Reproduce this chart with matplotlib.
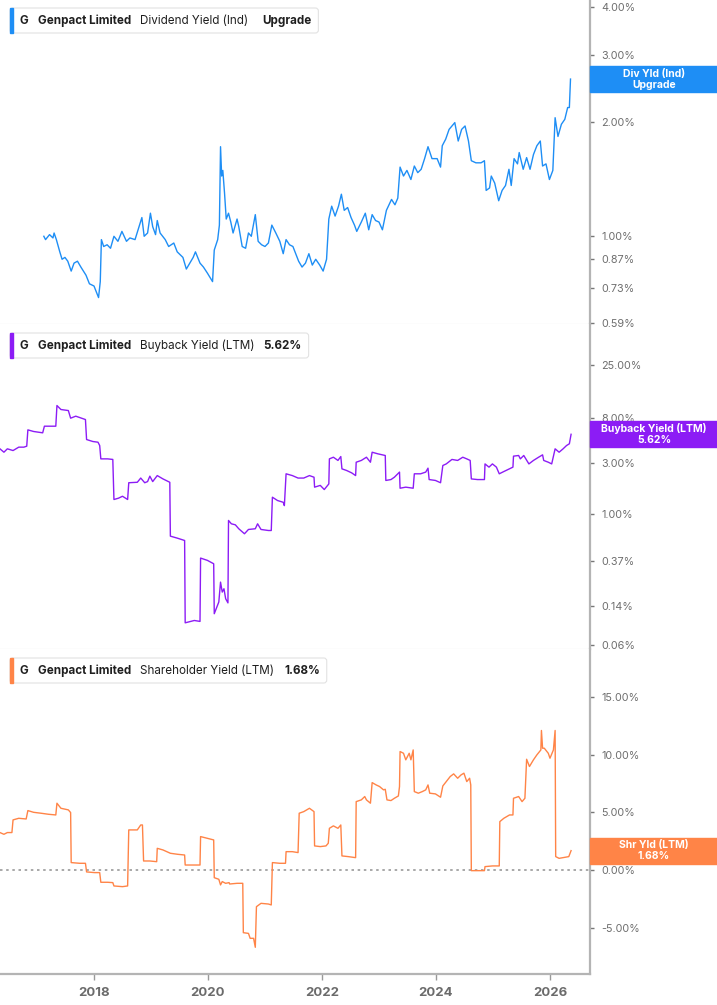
import matplotlib
matplotlib.use("Agg")
import matplotlib.pyplot as plt
from matplotlib.patches import FancyBboxPatch, Rectangle
from matplotlib.transforms import IdentityTransform

plt.rcParams["font.family"] = ["Inter", "DejaVu Sans"]

# ---- data (decimal year, percent) ----
div_years = [
    2017.12, 2017.15, 2017.22, 2017.28, 2017.30, 2017.34, 2017.40, 2017.44, 2017.49, 2017.54,
    2017.60, 2017.65, 2017.71, 2017.77, 2017.86, 2017.92, 2018.00, 2018.08, 2018.11, 2018.13,
    2018.17, 2018.23, 2018.29, 2018.35, 2018.42, 2018.49, 2018.57, 2018.63, 2018.72, 2018.79,
    2018.84, 2018.88, 2018.94, 2018.99, 2019.03, 2019.08, 2019.11, 2019.16, 2019.25, 2019.31,
    2019.40, 2019.46, 2019.56, 2019.62, 2019.68, 2019.74, 2019.78, 2019.86, 2019.92, 2019.99,
    2020.08, 2020.11, 2020.17, 2020.20, 2020.22, 2020.24, 2020.26, 2020.29, 2020.32, 2020.36,
    2020.40, 2020.44, 2020.51, 2020.54, 2020.60, 2020.66, 2020.71, 2020.76, 2020.83, 2020.88,
    2020.94, 2021.00, 2021.06, 2021.12, 2021.19, 2021.26, 2021.32, 2021.37, 2021.43, 2021.49,
    2021.59, 2021.65, 2021.71, 2021.77, 2021.83, 2021.89, 2021.96, 2022.02, 2022.08, 2022.12,
    2022.17, 2022.23, 2022.29, 2022.34, 2022.39, 2022.45, 2022.51, 2022.57, 2022.61, 2022.69,
    2022.76, 2022.82, 2022.88, 2022.94, 2023.00, 2023.06, 2023.13, 2023.22, 2023.28, 2023.33,
    2023.37, 2023.43, 2023.49, 2023.56, 2023.62, 2023.68, 2023.74, 2023.80, 2023.86, 2023.93,
    2024.02, 2024.08, 2024.11, 2024.17, 2024.23, 2024.33, 2024.39, 2024.45, 2024.51, 2024.57,
    2024.62, 2024.70, 2024.79, 2024.85, 2024.88, 2024.94, 2024.97, 2025.03, 2025.10, 2025.16,
    2025.22, 2025.28, 2025.32, 2025.37, 2025.43, 2025.46, 2025.53, 2025.59, 2025.65, 2025.71,
    2025.77, 2025.83, 2025.87, 2025.93, 2025.99, 2026.05, 2026.09, 2026.14, 2026.20, 2026.26,
    2026.31, 2026.34, 2026.36,
]
div_yield = [
    1.00, 0.98, 1.01, 0.99, 1.02, 0.98, 0.91, 0.87, 0.88, 0.86,
    0.81, 0.85, 0.86, 0.83, 0.79, 0.75, 0.74, 0.69, 0.76, 0.98,
    0.94, 0.95, 0.93, 1.00, 0.97, 1.03, 0.97, 0.99, 0.98, 1.06,
    1.12, 1.00, 1.02, 1.15, 1.06, 1.01, 1.10, 1.02, 0.98, 0.94,
    0.96, 0.91, 0.88, 0.82, 0.85, 0.88, 0.91, 0.85, 0.83, 0.80,
    0.76, 0.92, 0.98, 1.07, 1.72, 1.44, 1.49, 1.30, 1.11, 1.15,
    1.09, 1.02, 1.11, 1.06, 0.94, 0.93, 1.02, 1.00, 1.14, 0.97,
    0.95, 0.94, 0.96, 1.07, 1.02, 0.97, 0.90, 0.98, 0.95, 0.94,
    0.86, 0.83, 0.85, 0.90, 0.84, 0.87, 0.84, 0.81, 0.87, 1.11,
    1.20, 1.13, 1.20, 1.29, 1.17, 1.19, 1.12, 1.07, 1.03, 1.09,
    1.15, 1.04, 1.14, 1.10, 1.09, 1.04, 1.17, 1.25, 1.21, 1.26,
    1.52, 1.44, 1.49, 1.41, 1.53, 1.47, 1.50, 1.60, 1.72, 1.60,
    1.60, 1.52, 1.73, 1.80, 1.91, 1.99, 1.78, 1.91, 1.95, 1.78,
    1.58, 1.56, 1.56, 1.58, 1.32, 1.34, 1.44, 1.38, 1.24, 1.32,
    1.36, 1.50, 1.36, 1.60, 1.55, 1.66, 1.50, 1.61, 1.50, 1.64,
    1.73, 1.78, 1.53, 1.55, 1.41, 1.49, 2.05, 1.83, 1.97, 2.03,
    2.18, 2.18, 2.59,
]

bb_years = [
    2016.35, 2016.42, 2016.48, 2016.58, 2016.68, 2016.77, 2016.82, 2016.84, 2016.94, 2017.10,
    2017.13, 2017.23, 2017.33, 2017.35, 2017.42, 2017.55, 2017.59, 2017.68, 2017.85, 2017.87,
    2017.98, 2018.07, 2018.10, 2018.12, 2018.24, 2018.33, 2018.35, 2018.43, 2018.50, 2018.59,
    2018.61, 2018.76, 2018.82, 2018.89, 2018.94, 2018.98, 2019.03, 2019.11, 2019.21, 2019.33,
    2019.34, 2019.46, 2019.59, 2019.60, 2019.70, 2019.76, 2019.86, 2019.87, 2019.99, 2020.10,
    2020.11, 2020.19, 2020.22, 2020.25, 2020.28, 2020.31, 2020.35, 2020.36, 2020.41, 2020.48,
    2020.54, 2020.64, 2020.71, 2020.83, 2020.87, 2020.93, 2021.06, 2021.11, 2021.13, 2021.22,
    2021.32, 2021.34, 2021.37, 2021.48, 2021.58, 2021.68, 2021.78, 2021.86, 2021.87, 2021.97,
    2022.04, 2022.12, 2022.13, 2022.20, 2022.28, 2022.33, 2022.35, 2022.43, 2022.52, 2022.59,
    2022.60, 2022.69, 2022.78, 2022.85, 2022.88, 2022.98, 2023.11, 2023.12, 2023.21, 2023.27,
    2023.36, 2023.37, 2023.47, 2023.60, 2023.62, 2023.73, 2023.82, 2023.86, 2023.88, 2023.99,
    2024.08, 2024.12, 2024.18, 2024.28, 2024.38, 2024.47, 2024.54, 2024.60, 2024.62, 2024.73,
    2024.85, 2024.86, 2024.93, 2024.99, 2025.06, 2025.11, 2025.19, 2025.29, 2025.35, 2025.36,
    2025.45, 2025.48, 2025.54, 2025.63, 2025.71, 2025.80, 2025.87, 2025.89, 2025.97, 2026.03,
    2026.09, 2026.16, 2026.23, 2026.29, 2026.34, 2026.37,
]
bb_yield = [
    4.11, 3.82, 4.11, 3.96, 4.26, 4.26, 4.35, 6.18, 5.97, 5.80,
    6.69, 6.69, 6.69, 10.44, 9.58, 9.37, 7.95, 8.30, 7.72, 5.02,
    4.81, 4.74, 4.41, 3.31, 3.31, 3.27, 1.38, 1.42, 1.48, 1.38,
    1.98, 2.00, 2.19, 1.98, 2.03, 2.28, 2.03, 2.31, 2.15, 2.00,
    0.627, 0.601, 0.571, 0.097, 0.100, 0.102, 0.100, 0.391, 0.372, 0.346,
    0.118, 0.152, 0.233, 0.188, 0.202, 0.163, 0.149, 0.879, 0.818, 0.800,
    0.735, 0.660, 0.724, 0.735, 0.818, 0.724, 0.708, 0.708, 1.45, 1.35,
    1.30, 1.21, 2.40, 2.31, 2.19, 2.19, 2.31, 2.23, 1.80, 1.87,
    1.71, 1.93, 3.31, 3.43, 3.20, 3.48, 2.67, 2.58, 2.45, 2.31,
    3.08, 3.20, 3.43, 3.08, 3.82, 3.69, 3.56, 2.08, 2.12, 2.23,
    2.49, 1.76, 1.80, 1.76, 2.40, 2.40, 2.49, 2.71, 2.12, 2.08,
    1.98, 2.87, 2.97, 3.27, 3.20, 3.43, 3.31, 3.20, 2.15, 2.12,
    2.12, 2.97, 2.77, 2.97, 2.77, 2.40, 2.52, 2.67, 2.77, 3.51,
    3.56, 3.31, 3.56, 2.97, 3.20, 3.43, 3.61, 3.20, 3.08, 2.97,
    4.11, 3.82, 4.11, 4.41, 4.58, 5.62,
]

shr_years = [
    2016.35, 2016.42, 2016.48, 2016.56, 2016.58, 2016.68, 2016.81, 2016.84, 2016.94, 2017.07,
    2017.20, 2017.33, 2017.35, 2017.42, 2017.55, 2017.59, 2017.60, 2017.75, 2017.85, 2017.87,
    2018.01, 2018.10, 2018.12, 2018.24, 2018.33, 2018.35, 2018.50, 2018.59, 2018.61, 2018.76,
    2018.82, 2018.85, 2018.87, 2018.98, 2019.10, 2019.11, 2019.21, 2019.34, 2019.47, 2019.59,
    2019.60, 2019.73, 2019.86, 2019.87, 2019.99, 2020.10, 2020.11, 2020.19, 2020.22, 2020.25,
    2020.31, 2020.37, 2020.38, 2020.51, 2020.61, 2020.62, 2020.71, 2020.74, 2020.80, 2020.83,
    2020.85, 2020.93, 2021.06, 2021.11, 2021.13, 2021.26, 2021.36, 2021.37, 2021.48, 2021.58,
    2021.60, 2021.68, 2021.78, 2021.86, 2021.87, 2021.97, 2022.07, 2022.11, 2022.13, 2022.20,
    2022.28, 2022.33, 2022.35, 2022.46, 2022.59, 2022.60, 2022.69, 2022.75, 2022.78, 2022.85,
    2022.88, 2022.95, 2023.01, 2023.08, 2023.11, 2023.14, 2023.21, 2023.27, 2023.34, 2023.36,
    2023.37, 2023.43, 2023.47, 2023.53, 2023.56, 2023.60, 2023.62, 2023.69, 2023.76, 2023.82,
    2023.86, 2023.89, 2023.99, 2024.08, 2024.12, 2024.18, 2024.25, 2024.31, 2024.38, 2024.44,
    2024.49, 2024.54, 2024.59, 2024.61, 2024.62, 2024.73, 2024.85, 2024.86, 2024.99, 2025.11,
    2025.12, 2025.19, 2025.29, 2025.35, 2025.36, 2025.45, 2025.51, 2025.56, 2025.59, 2025.64,
    2025.71, 2025.77, 2025.84, 2025.85, 2025.87, 2025.90, 2025.97, 2026.00, 2026.06, 2026.09,
    2026.10, 2026.16, 2026.23, 2026.33, 2026.37,
]
shr_yield = [
    3.25, 3.10, 3.25, 3.25, 4.35, 4.49, 4.43, 5.16, 5.01, 4.93,
    4.84, 4.78, 5.80, 5.36, 5.22, 4.99, 0.64, 0.58, 0.58, -0.17,
    -0.23, -0.23, -1.07, -1.07, -1.10, -1.39, -1.45, -1.39, 3.48, 3.48,
    3.91, 3.91, 0.78, 0.78, 0.72, 1.88, 1.74, 1.45, 1.36, 1.30,
    0.43, 0.43, 0.43, 2.90, 2.75, 2.61, -0.67, -0.81, -1.30, -1.01,
    -1.16, -1.10, -1.22, -1.16, -1.16, -5.45, -5.51, -5.94, -5.94, -6.72,
    -3.19, -2.90, -2.96, -3.04, 0.64, 0.58, 0.58, 1.59, 1.59, 1.51,
    4.93, 5.07, 5.36, 5.07, 2.09, 2.03, 2.09, 2.32, 3.62, 3.83,
    3.62, 3.91, 1.22, 1.16, 1.07, 5.94, 6.09, 6.38, 6.09, 5.80,
    7.59, 7.39, 7.25, 6.96, 7.01, 6.09, 6.03, 6.23, 6.43, 7.25,
    10.29, 10.14, 9.57, 10.14, 9.57, 10.43, 6.81, 6.67, 6.81, 6.96,
    7.39, 6.67, 6.61, 6.32, 7.30, 7.68, 8.12, 8.35, 7.97, 8.26,
    8.41, 7.68, 7.97, 7.39, -0.06, -0.06, -0.06, 0.29, 0.35, 0.35,
    4.20, 4.49, 4.78, 4.78, 6.23, 6.38, 5.94, 6.23, 9.62, 8.99,
    9.57, 10.00, 10.43, 12.12, 10.58, 10.58, 10.14, 9.71, 10.43, 12.12,
    1.16, 1.01, 1.07, 1.16, 1.68,
]

assert len(div_years) == len(div_yield)
assert len(bb_years) == len(bb_yield)
assert len(shr_years) == len(shr_yield)

year_ticks = [2018, 2020, 2022, 2024, 2026]
div_ticks = [0.59, 0.73, 0.87, 1.00, 2.00, 3.00, 4.00]
bb_ticks = [0.06, 0.14, 0.37, 1.00, 3.00, 8.00, 25.00]
shr_ticks = [-5, 0, 5, 10, 15]

BLUE = "#1e8ef5"
PURPLE = "#8c1cf5"
ORANGE = "#ff8447"

W, H = 717, 1005
fig = plt.figure(figsize=(W / 100, H / 100), dpi=100)
pix = IdentityTransform()

panels = [(0, 324), (324, 649), (649, 974)]
axes = []
for top, bottom in panels:
    ax = fig.add_axes([0, 1 - bottom / H, 590 / W, (bottom - top) / H])
    ax.set_xlim(2016.351, 2026.702)
    for side in ("left", "top"):
        ax.spines[side].set_visible(False)
    ax.spines["right"].set_color("#b4b4b4")
    ax.spines["right"].set_linewidth(1.6)
    ax.spines["bottom"].set_color("#cfcfcf")
    ax.spines["bottom"].set_linewidth(0.8)
    ax.yaxis.tick_right()
    ax.tick_params(axis="y", which="both", direction="out", length=3, width=1,
                   color="#777777", labelsize=7.8, labelcolor="#6e6e6e", pad=5)
    ax.set_xticks([])
    ax.minorticks_off()
    axes.append(ax)

ax1, ax2, ax3 = axes

# dividend yield (log)
ax1.plot(div_years, div_yield, color=BLUE, lw=1.0)
ax1.set_yscale("log")
ax1.set_ylim(0.588, 4.18)
ax1.set_yticks(div_ticks)
ax1.set_yticklabels([f"{t:.2f}%" for t in div_ticks])
ax1.minorticks_off()

# buyback yield (log)
ax2.plot(bb_years, bb_yield, color=PURPLE, lw=1.0)
ax2.set_yscale("log")
ax2.set_ylim(0.0552, 60.4)
ax2.set_yticks(bb_ticks)
ax2.set_yticklabels([f"{t:.2f}%" for t in bb_ticks])
ax2.minorticks_off()

# shareholder yield (linear)
ax3.plot(shr_years, shr_yield, color=ORANGE, lw=1.0)
ax3.axhline(0, color="#9a9a9a", lw=1.2, ls=(0, (1.5, 2.2)), zorder=1)
ax3.set_ylim(-9.04, 19.2)
ax3.set_yticks(shr_ticks)
ax3.set_yticklabels([f"{t:.2f}%" for t in shr_ticks])
ax3.spines["bottom"].set_color("#b4b4b4")
ax3.spines["bottom"].set_linewidth(1.6)
ax3.set_xticks(year_ticks)
ax3.set_xticklabels([str(y) for y in year_ticks], fontweight="bold")
ax3.tick_params(axis="x", direction="out", length=4, width=1, color="#999999",
                labelsize=9.5, labelcolor="#6b6b6b", pad=5)

renderer = fig.canvas.get_renderer()


def draw_header(y_top, parts, color):
    yc = H - (y_top + 12.5)
    x = 20
    last = None
    for text, weight, gap in parts:
        t = fig.text(x, yc, text, transform=pix, fontsize=8.4, fontweight=weight,
                     color="#1f1f1f", va="center", ha="left", zorder=7)
        last = t.get_window_extent(renderer)
        x = last.x1 + gap
    right = last.x1 + 7
    box = FancyBboxPatch((10, H - y_top - 25), right - 10, 25,
                         boxstyle="round,pad=0,rounding_size=3", transform=pix,
                         fc="white", ec="#e2e2e2", lw=0.8, zorder=5)
    fig.add_artist(box)
    fig.add_artist(Rectangle((10, H - y_top - 25), 3, 25, transform=pix,
                             color=color, zorder=6))


def value_tag(ax, x_last, v_last, line1, line2, color):
    yd = ax.transData.transform((x_last, v_last))[1]
    fig.add_artist(Rectangle((590, yd - 13), 127, 26, transform=pix,
                             color=color, zorder=5))
    fig.text(654, yd + 5.5, line1, transform=pix, fontsize=7.5, fontweight="bold",
             color="white", ha="center", va="center", zorder=6)
    fig.text(654, yd - 5.5, line2, transform=pix, fontsize=7.5, fontweight="bold",
             color="white", ha="center", va="center", zorder=6)


draw_header(8, [("G", "bold", 9), ("Genpact Limited", "bold", 9),
                ("Dividend Yield (Ind)", "normal", 14), ("Upgrade", "bold", 0)], BLUE)
draw_header(333, [("G", "bold", 9), ("Genpact Limited", "bold", 9),
                  ("Buyback Yield (LTM)", "normal", 9), ("5.62%", "bold", 0)], PURPLE)
draw_header(658, [("G", "bold", 9), ("Genpact Limited", "bold", 9),
                  ("Shareholder Yield (LTM)", "normal", 10), ("1.68%", "bold", 0)], ORANGE)

value_tag(ax1, div_years[-1], div_yield[-1], "Div Yld (Ind)", "Upgrade", BLUE)
value_tag(ax2, bb_years[-1], bb_yield[-1], "Buyback Yield (LTM)", "5.62%", PURPLE)
value_tag(ax3, shr_years[-1], shr_yield[-1], "Shr Yld (LTM)", "1.68%", ORANGE)

fig.savefig("out.png", dpi=100, facecolor="white")
